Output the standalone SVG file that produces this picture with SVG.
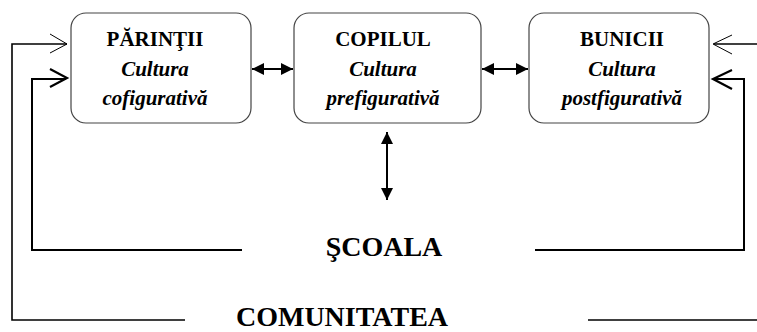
<svg xmlns="http://www.w3.org/2000/svg" width="757" height="332" viewBox="0 0 757 332">
<style>
.box{fill:#fff;stroke:#444;stroke-width:1.2}
.t{font-family:"Liberation Serif","Times New Roman",serif;font-weight:bold;text-anchor:middle;fill:#000}
.h{font-size:21px}
.i{font-size:21px;font-style:italic}
.big{font-size:28px}
.ln{fill:none;stroke:#000;stroke-width:1.6}
.ln2{fill:none;stroke:#000;stroke-width:2}
.chev{fill:none;stroke:#000;stroke-width:1}
.chev2{fill:none;stroke:#000;stroke-width:2.2}
</style>
<defs>
<marker id="fa" viewBox="0 0 12 12" refX="12" refY="6" markerWidth="12" markerHeight="12" markerUnits="userSpaceOnUse" orient="auto-start-reverse">
<path d="M0,0 L12,6 L0,12 z" fill="#000"/>
</marker>
</defs>
<rect width="757" height="332" fill="#fff"/>
<g id="parinti">
<rect class="box" x="71" y="13" width="180" height="110" rx="15"/>
<text class="t h" x="155" y="46">PĂRINŢII</text>
<text class="t i" x="155" y="76">Cultura</text>
<text class="t i" x="155" y="105">cofigurativă</text>
</g>
<g id="copilul">
<rect class="box" x="294" y="13" width="187" height="110" rx="15"/>
<text class="t h" x="383" y="46">COPILUL</text>
<text class="t i" x="383" y="76">Cultura</text>
<text class="t i" x="383" y="105">prefigurativă</text>
</g>
<g id="bunicii">
<rect class="box" x="529" y="13" width="180" height="110" rx="15"/>
<text class="t h" x="622" y="46">BUNICII</text>
<text class="t i" x="622" y="76">Cultura</text>
<text class="t i" x="622" y="105">postfigurativă</text>
</g>
<g id="scoala">
<text class="t big" x="384" y="256">ŞCOALA</text>
</g>
<g id="comunitatea">
<text class="t big" x="342" y="326">COMUNITATEA</text>
</g>
<g id="connectors">
<line class="ln2" x1="252" y1="69" x2="293" y2="69" marker-start="url(#fa)" marker-end="url(#fa)"/>
<line class="ln2" x1="482" y1="69" x2="528" y2="69" marker-start="url(#fa)" marker-end="url(#fa)"/>
<line class="ln2" x1="387" y1="132" x2="387" y2="200" marker-start="url(#fa)" marker-end="url(#fa)"/>
<polyline class="ln" points="185,320 12,320 12,44 67,44"/>
<polyline class="chev" points="50,34 67,44 50,53"/>
<polyline class="ln2" points="242,250 32,250 32,79 66,79"/>
<polyline class="chev2" points="50,69 67,78 50,87"/>
<polyline class="ln" points="588,320 757,320"/>
<polyline class="ln" points="757,44 714,44"/>
<polyline class="chev" points="732,35 713,44 732,54"/>
<polyline class="ln2" points="535,250 744,250 744,79 715,79"/>
<polyline class="chev2" points="732,70 713,79 732,89"/>
</g>
</svg>
